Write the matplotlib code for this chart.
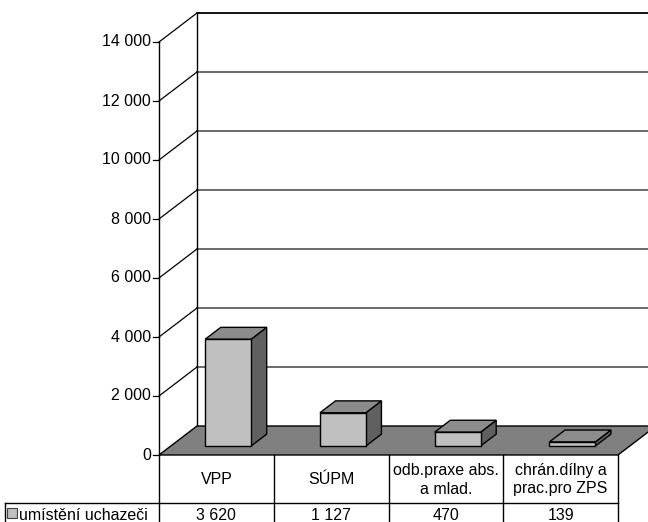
import matplotlib
matplotlib.use("Agg")
import matplotlib.pyplot as plt
from matplotlib.patches import Polygon

plt.rcParams['font.family'] = ['Liberation Sans', 'DejaVu Sans']

categories = ["VPP", "SÚPM", "odb.praxe abs.\na mlad.", "chrán.dílny a\nprac.pro ZPS"]
values = [3620, 1127, 470, 139]
value_labels = ["3 620", "1 127", "470", "139"]
series_name = "umístění uchazeči"
yticks = [0, 2000, 4000, 6000, 8000, 10000, 12000, 14000]
ytick_labels = ["0", "2 000", "4 000", "6 000", "8 000", "10 000", "12 000", "14 000"]
ymax = 14000

# layout of the pseudo 3d box, in pixels
X0, X1 = 159, 618      # front edge of floor
Y0, YTOP = 455, 42     # front axis: 0 and ymax
DX, DY = 38, -29       # depth offset (front -> back)
BAR_W = 0.4            # bar width as fraction of a category
D_FRONT, D_BACK = 0.31, 0.72
FS = 11.5

ncat = len(categories)
col_w = (X1 - X0) / ncat


def proj(xf, v, d):
    """category fraction xf, value v, depth d -> pixel coords"""
    px = X0 + xf * (X1 - X0) + d * DX
    py = Y0 - v * (Y0 - YTOP) / ymax + d * DY
    return px, py


fig = plt.figure(figsize=(6.48, 5.22), dpi=100)
ax = fig.add_axes([0, 0, 1, 1])
ax.set_xlim(0, 648)
ax.set_ylim(522, 0)
ax.axis('off')

# floor
floor = [proj(0, 0, 0), proj(1, 0, 0), proj(1, 0, 1), proj(0, 0, 1)]
ax.add_patch(Polygon(floor, closed=True, facecolor='#808080',
                     edgecolor='black', lw=1.0, zorder=2))

# back wall gridlines and side wall diagonals
for v in yticks[1:]:
    bx, by = proj(0, v, 1)
    ex, ey = proj(1, v, 1)
    top = v == ymax
    ax.plot([bx, ex], [by, ey], color='black' if top else '#6a6a6a',
            lw=1.3 if top else 1.4, zorder=1)
    fx, fy = proj(0, v, 0)
    ax.plot([fx, bx], [fy, by], color='black', lw=0.9, zorder=1)

# back wall left edge and front axis
ax.plot(*zip(proj(0, 0, 1), proj(0, ymax, 1)), color='black', lw=1.0, zorder=1)
ax.plot(*zip(proj(0, 0, 0), proj(0, ymax, 0)), color='black', lw=1.0, zorder=3)

# ticks and tick labels
for v, lab in zip(yticks, ytick_labels):
    fx, fy = proj(0, v, 0)
    ax.plot([fx - 6, fx], [fy, fy], color='black', lw=0.9, zorder=3)
    ax.text(fx - 8, fy, lab, ha='right', va='center', fontsize=FS)

# bars
for i, val in enumerate(values):
    c = (i + 0.5) / ncat
    xl = c - BAR_W / ncat / 2
    xr = c + BAR_W / ncat / 2
    front = [proj(xl, 0, D_FRONT), proj(xr, 0, D_FRONT),
             proj(xr, val, D_FRONT), proj(xl, val, D_FRONT)]
    side = [proj(xr, 0, D_FRONT), proj(xr, 0, D_BACK),
            proj(xr, val, D_BACK), proj(xr, val, D_FRONT)]
    top = [proj(xl, val, D_FRONT), proj(xr, val, D_FRONT),
           proj(xr, val, D_BACK), proj(xl, val, D_BACK)]
    ax.add_patch(Polygon(side, closed=True, facecolor='#606060',
                         edgecolor='black', lw=1.0, zorder=4))
    ax.add_patch(Polygon(top, closed=True, facecolor='#8c8c8c',
                         edgecolor='black', lw=1.0, zorder=4))
    ax.add_patch(Polygon(front, closed=True, facecolor='#c0c0c0',
                         edgecolor='black', lw=1.0, zorder=5))

# data table
row_split = 503
bottom = 530
for i in range(ncat + 1):
    x = X0 + i * col_w
    ax.plot([x, x], [Y0, bottom], color='black', lw=1.0, zorder=3)
ax.plot([5, X1], [row_split, row_split], color='black', lw=1.0)
ax.plot([5, 5], [row_split, bottom], color='black', lw=1.0)

for i, (cat, lab) in enumerate(zip(categories, value_labels)):
    cx = X0 + (i + 0.5) * col_w
    ax.text(cx, (Y0 + row_split) / 2 + 1, cat, ha='center', va='center',
            fontsize=FS, linespacing=1.25)
    ax.text(cx, 515, lab, ha='center', va='center', fontsize=FS)

ax.add_patch(plt.Rectangle((7, 508), 10, 10, facecolor='#c0c0c0',
                           edgecolor='#404040', lw=0.8))
ax.text(19, 515, series_name, ha='left', va='center', fontsize=FS)

fig.savefig("out.png", dpi=100)
